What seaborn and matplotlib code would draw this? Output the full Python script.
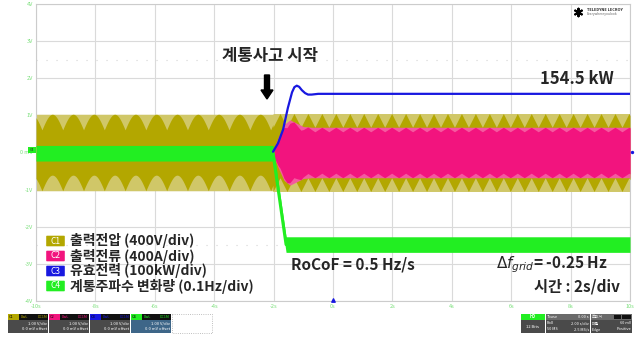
import numpy as np
import pandas as pd
import matplotlib.pyplot as plt
from matplotlib.patches import FancyBboxPatch, Rectangle, FancyArrow
import seaborn as sns

sns.set_style('white')
plt.rcParams['font.family'] = ['Noto Sans CJK KR', 'DejaVu Sans']

# scope axes (time in s, amplitude in divisions)
x_ticks = [-10, -8, -6, -4, -2, 0, 2, 4, 6, 8, 10]
x_labels = ['-10s', '-8s', '-6s', '-4s', '-2s', '0s', '2s', '4s', '6s', '8s', '10s']
y_ticks = [-4, -3, -2, -1, 0, 1, 2, 3, 4]
y_labels = ['-4V', '-3V', '-2V', '-1V', '0 mV', '1V', '2V', '3V', '4V']

t_event = -2.02

# C1 output voltage band: before / after fault
c1_amp = [1.03, 1.05]
c1_notch = [0.42, 0.37]
c1_period = [0.70, 0.47]

# C2 output current envelope (starts at fault)
c2_t = [-2.02, -1.85, -1.65, -1.45, -1.25, -1.0, -0.7, 10.0]
c2_amp = [0.05, 0.40, 0.75, 0.88, 0.80, 0.70, 0.68, 0.68]
c2_notch = 0.18

# C3 active power
c3_t = [-10.0, -2.02, -1.85, -1.68, -1.52, -1.38, -1.30, -1.22, -1.14, -1.05,
        -0.94, -0.84, -0.72, -0.5, 10.0]
c3_v = [0.0, 0.02, 0.25, 0.62, 1.2, 1.62, 1.76, 1.80, 1.77, 1.68,
        1.60, 1.56, 1.56, 1.58, 1.58]

# C4 grid frequency deviation
c4_t = [-10.0, -2.02, -1.58, 10.0]
c4_v = [-0.02, -0.02, -2.48, -2.48]
c4_half = 0.21

dark_olive = '#B3A700'
light_olive = '#D0C768'
pink = '#F2147E'
light_pink = '#F45A9F'
green = '#22EE22'
blue = '#1818E0'

fig = plt.figure(figsize=(6.36, 3.37), dpi=100)
ax = fig.add_axes([36 / 636, 1 - 301 / 337, 594 / 636, 297 / 337])

# texture grid for the sampled waveforms
t = np.linspace(-10, 10, 6000)
pre = t < t_event
hump = np.abs(np.sin(np.pi * t / c1_period[0]))
tri = 1 - 2 * np.abs(((t - t_event) / c1_period[1]) % 1 - 0.5)

amp = np.where(pre, c1_amp[0], c1_amp[1])
up = np.where(pre, c1_amp[0] - c1_notch[0] * (1 - hump),
              c1_amp[1] - c1_notch[1] * (1 - tri))
low = up - np.where(pre, 2 * c1_amp[0] - c1_notch[0], 2 * c1_amp[1] - c1_notch[1])
ax.fill_between(t, -amp, amp, color=light_olive, lw=0, zorder=2)
ax.fill_between(t, low, up, color=dark_olive, lw=0, zorder=3)

post = t >= c2_t[0]
pe = np.interp(t[post], c2_t, c2_amp)
pup = pe - c2_notch * pe * (1 - tri[post])
plow = pup - (2 - c2_notch) * pe
ax.fill_between(t[post], -pe, pe, color=light_pink, lw=0, zorder=4)
ax.fill_between(t[post], plow, pup, color=pink, lw=0, zorder=5)

c4 = pd.DataFrame({'t': c4_t, 'v': c4_v})
ax.fill_between(c4['t'], c4['v'] - c4_half, c4['v'] + c4_half, color=green, lw=0, zorder=6)
sns.lineplot(data=c4.iloc[1:3], x='t', y='v', color=green, lw=2.2, ax=ax, zorder=6)

c3 = pd.DataFrame({'t': c3_t, 'v': c3_v})
sns.lineplot(data=c3[c3['t'] >= t_event], x='t', y='v', color=blue, lw=1.6, ax=ax, zorder=7)

ax.set_xlim(-10, 10)
ax.set_ylim(-4, 4)
ax.set_xticks(x_ticks, x_labels, fontsize=4, color='#7ADF7A')
ax.set_yticks(y_ticks, y_labels, fontsize=4, color='#7ADF7A')
ax.tick_params(length=0, pad=2)
ax.set_xlabel('')
ax.set_ylabel('')
ax.grid(True, color='#DADADA', lw=0.8)
ax.set_axisbelow(True)
for y in (2.5, -2.5):
    ax.axhline(y, color='#D5D5D5', lw=0.8, ls=(0, (1, 8)), zorder=1)
for s in ax.spines.values():
    s.set_color('#CCCCCC')
    s.set_linewidth(0.8)

# overlay in pixel coordinates
ov = fig.add_axes([0, 0, 1, 1], zorder=10)
ov.set_xlim(0, 636)
ov.set_ylim(337, 0)
ov.axis('off')
ov.patch.set_alpha(0)

ov.text(222, 56, '계통사고 시작', fontsize=12, weight='bold', va='center')
ov.add_patch(FancyArrow(267, 75, 0, 24, width=5, head_width=12, head_length=9,
                        length_includes_head=True, color='black'))
ov.text(540, 79, '154.5 kW', fontsize=12, weight='bold', va='center')

leg_tags = ['C1', 'C2', 'C3', 'C4']
leg_text = ['출력전압 (400V/div)', '출력전류 (400A/div)', '유효전력 (100kW/div)',
            '계통주파수 변화량 (0.1Hz/div)']
leg_colors = [dark_olive, pink, blue, green]
leg_y = [241, 256, 271, 286]
for tag, txt, c, y in zip(leg_tags, leg_text, leg_colors, leg_y):
    ov.add_patch(FancyBboxPatch((47, y - 4.5), 17, 9, boxstyle='round,pad=0.8',
                                fc=c, ec='none'))
    ov.text(55.5, y, tag, fontsize=6, color='white', ha='center', va='center')
    ov.text(70, y, txt, fontsize=10, weight='bold', va='center')

ov.text(291, 264, 'RoCoF = 0.5 Hz/s', fontsize=11, weight='bold', va='center')
ov.text(496, 265, r'$\Delta f_{grid}$= -0.25 Hz', fontsize=11, weight='bold', va='center')
ov.text(620, 287, '시간 : 2s/div', fontsize=11, weight='bold', va='center', ha='right')

# logo
ov.scatter([578], [12], marker=(6, 2, 0), s=30, color='black')
ov.text(587, 10, 'TELEDYNE LECROY', fontsize=2.8, weight='bold', va='center')
ov.text(587, 14.5, 'Everywhereyoulook', fontsize=2.4, color='#666666', va='center')

# channel markers
ov.add_patch(Rectangle((28, 147), 8, 6, fc=green, ec='none'))
ov.text(32, 150, 'C4', fontsize=2.5, ha='center', va='center')
ov.scatter([632], [152], marker='o', s=2, color=blue)
ov.scatter([333], [300], marker='^', s=6, color=blue)

# channel descriptor boxes
body_colors = ['#4A4A4A', '#4A4A4A', '#4A4A4A', '#3E6688']
for i, (tag, c) in enumerate(zip(leg_tags, leg_colors)):
    x0 = 8 + 41 * i
    ov.add_patch(Rectangle((x0, 314), 40, 6, fc='#111111', ec='none'))
    ov.add_patch(Rectangle((x0, 314), 11, 6, fc=c, ec='none'))
    ov.text(x0 + 1, 317, tag, fontsize=2.8, color='black', va='center')
    ov.text(x0 + 13, 317, 'DwL', fontsize=2.6, color=c, va='center')
    ov.text(x0 + 39, 317, 'DC1M', fontsize=2.6, color=c, va='center', ha='right')
    ov.add_patch(Rectangle((x0, 320), 40, 13, fc=body_colors[i], ec='none'))
    ov.text(x0 + 39, 323.5, '1.00 V/div', fontsize=3, color='white', ha='right', va='center')
    ov.text(x0 + 39, 329.5, '0.0 mV offset', fontsize=3, color='white', ha='right', va='center')
ov.add_patch(Rectangle((172, 314), 40, 19, fc='white', ec='#AAAAAA', lw=0.6, ls=':'))

ov.add_patch(Rectangle((521, 314), 24, 6, fc=green, ec='none'))
ov.text(533, 317, 'HD', fontsize=3, color='white', ha='center', va='center', weight='bold')
ov.add_patch(Rectangle((521, 320), 24, 13, fc='#4A4A4A', ec='none'))
ov.text(533, 326.5, '12 Bits', fontsize=3, color='white', ha='center', va='center')

ov.add_patch(Rectangle((546, 314), 44, 6, fc='#6A6A6A', ec='none'))
ov.text(547, 317, 'Tbase', fontsize=2.8, color='white', va='center')
ov.text(589, 317, '0.00 s', fontsize=2.8, color='white', va='center', ha='right')
ov.add_patch(Rectangle((546, 320), 44, 13, fc='#4A4A4A', ec='none'))
ov.text(547, 323.5, 'Roll', fontsize=2.8, color='white', va='center')
ov.text(589, 323.5, '2.00 s/div', fontsize=2.8, color='white', va='center', ha='right')
ov.text(547, 329.5, '50 MS', fontsize=2.8, color='white', va='center')
ov.text(589, 329.5, '2.5 MS/s', fontsize=2.8, color='white', va='center', ha='right')

ov.add_patch(Rectangle((591, 314), 41, 6, fc='#6A6A6A', ec='none'))
ov.text(592, 317, '트리거', fontsize=2.8, color='white', va='center')
ov.add_patch(Rectangle((614, 315), 7, 4, fc='#111111', ec='none'))
ov.add_patch(Rectangle((622, 315), 9, 4, fc='#111111', ec='none'))
ov.add_patch(Rectangle((591, 320), 41, 13, fc='#4A4A4A', ec='none'))
ov.text(592, 323.5, '레벨', fontsize=2.8, color='white', va='center')
ov.text(631, 323.5, '60 mV', fontsize=2.8, color='white', va='center', ha='right')
ov.text(592, 329.5, 'Edge', fontsize=2.8, color='white', va='center')
ov.text(631, 329.5, 'Positive', fontsize=2.8, color='white', va='center', ha='right')

fig.savefig('out.png', dpi=100)
